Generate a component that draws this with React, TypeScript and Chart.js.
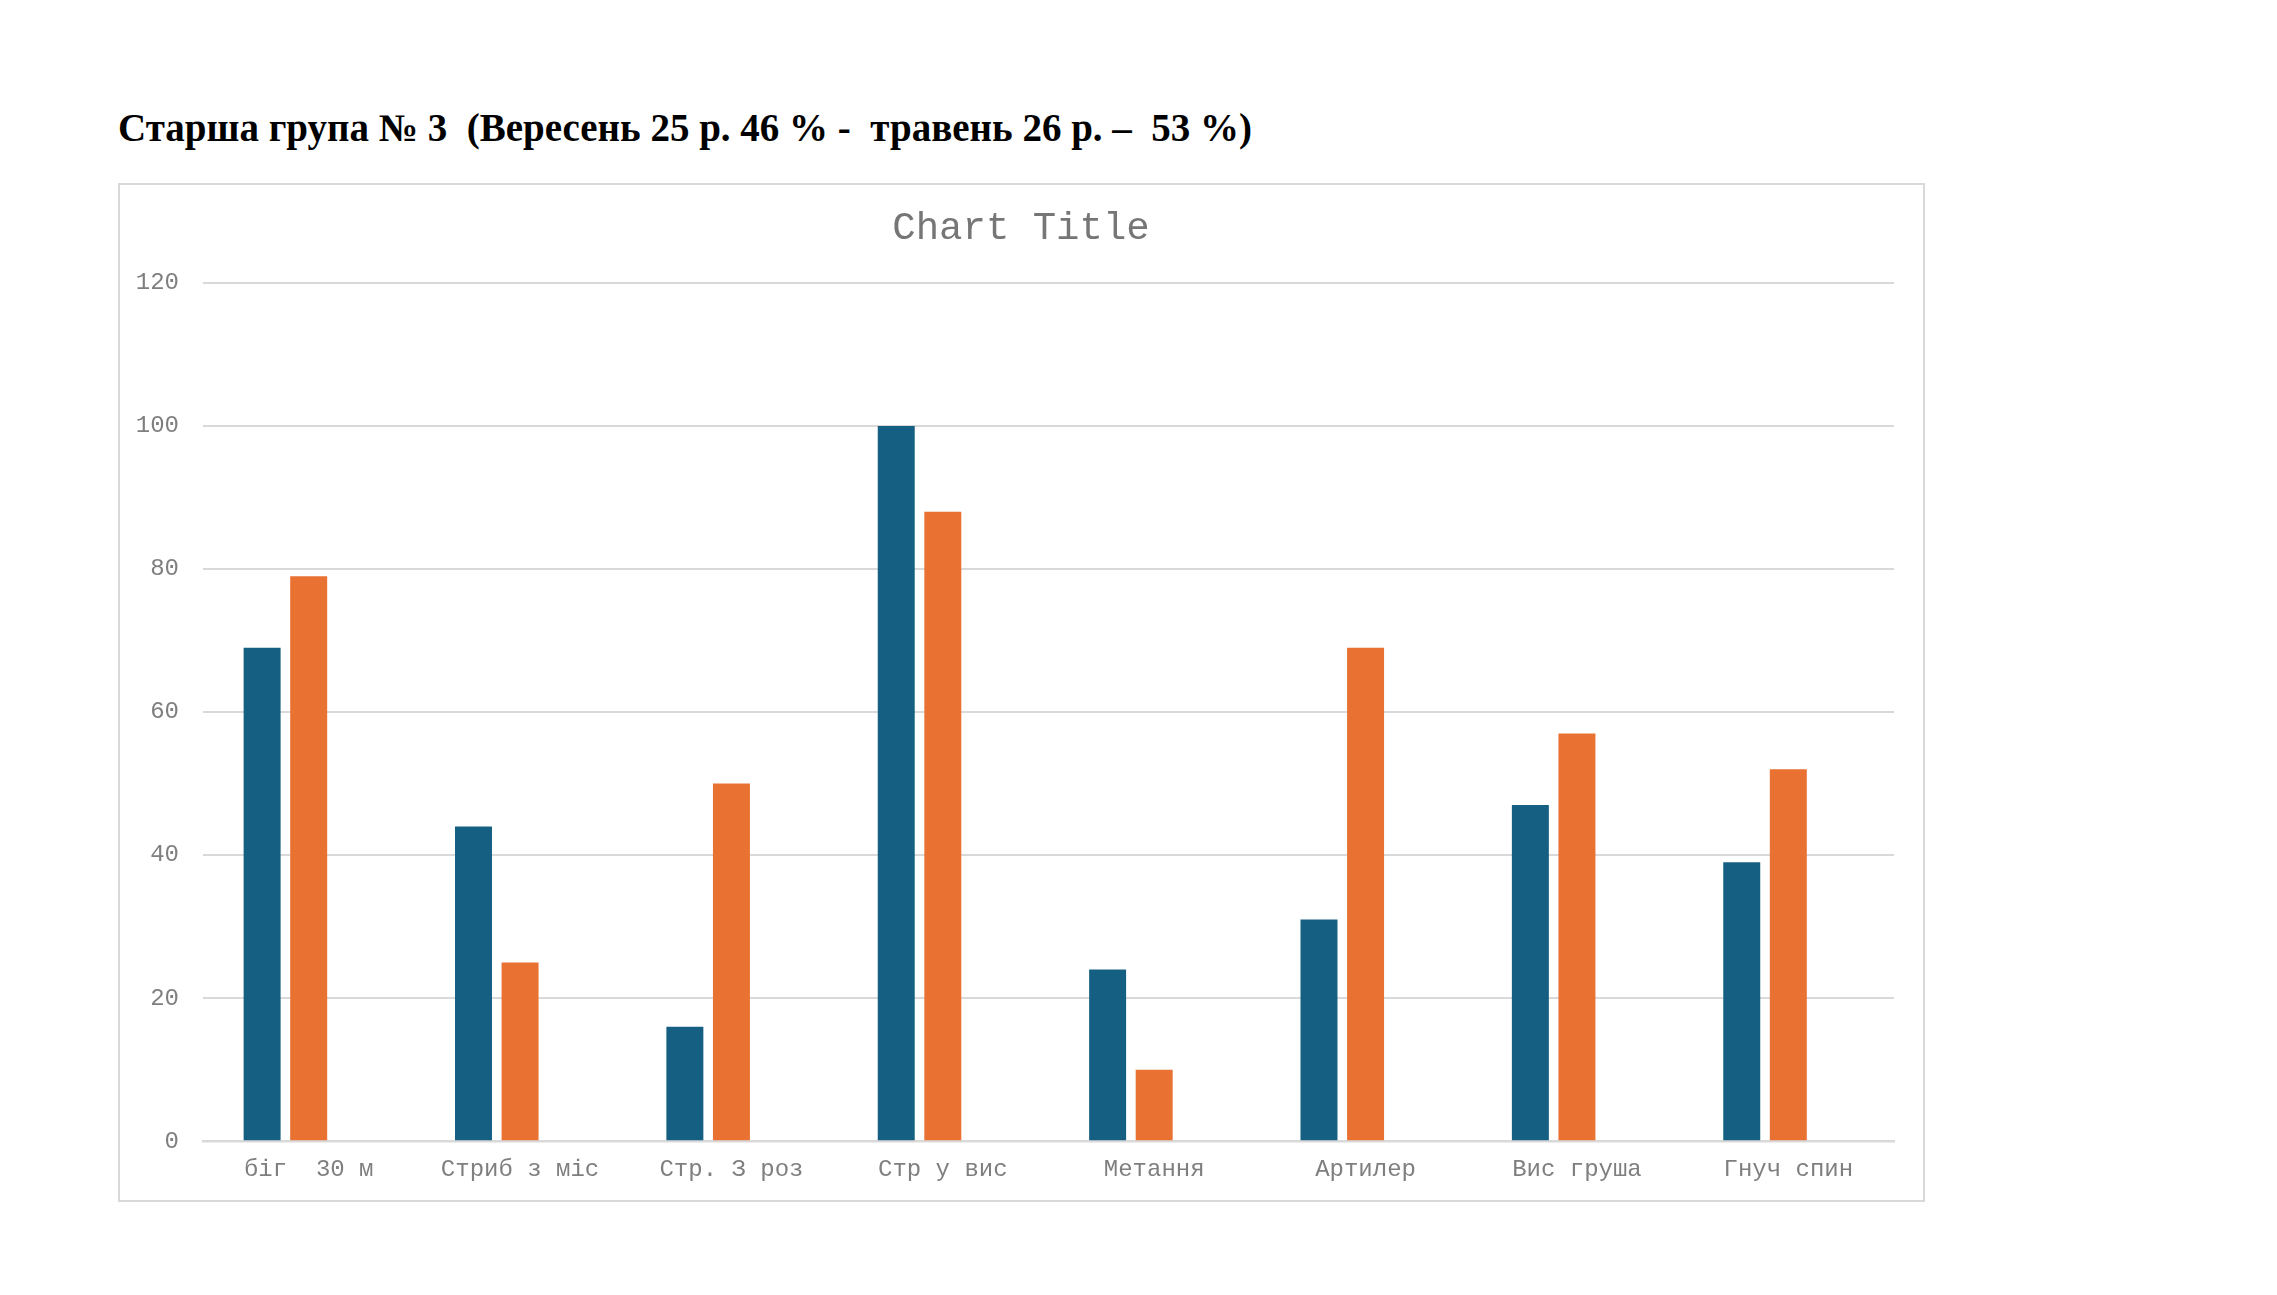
import React, { useEffect, useRef } from "react";
import { Chart, registerables } from "chart.js";

Chart.register(...registerables);

const pageTitle = "Старша група № 3  (Вересень 25 р. 46 % -  травень 26 р. –  53 %)";
const chartTitle = "Chart Title";
const categories = [
  "біг  30 м",
  "Стриб з міс",
  "Стр. З роз",
  "Стр у вис",
  "Метання",
  "Артилер",
  "Вис груша",
  "Гнуч спин",
];
const series1 = [69, 44, 16, 100, 24, 31, 47, 39];
const series2 = [79, 25, 50, 88, 10, 69, 57, 52];
const series3: (number | null)[] = [null, null, null, null, null, null, null, null];
const seriesNames = ["Ряд 1", "Ряд 2", "Ряд 3"];
const yMin = 0;
const yMax = 120;
const yStep = 20;

const BLUE = "#156082";
const ORANGE = "#E97132";
const GRID = "#d9d9d9";
const TEXT = "#7f7f7f";
const TITLE = "#767676";
const MONO = "'Liberation Mono', 'DejaVu Sans Mono', monospace";

function BarChart() {
  const ref = useRef<HTMLCanvasElement | null>(null);
  useEffect(() => {
    if (!ref.current) return;
    const chart = new Chart(ref.current, {
      type: "bar",
      data: {
        labels: categories,
        datasets: [
          { label: seriesNames[0], data: series1, backgroundColor: BLUE },
          { label: seriesNames[1], data: series2, backgroundColor: ORANGE },
          { label: seriesNames[2], data: series3, backgroundColor: "#A02B93" },
        ],
      },
      options: {
        animation: false,
        responsive: true,
        maintainAspectRatio: false,
        datasets: {
          bar: { categoryPercentage: 0.661, barPercentage: 0.794 },
        },
        layout: { padding: { left: 0, right: 29, top: 98, bottom: 2 } },
        plugins: {
          legend: { display: false },
          tooltip: { enabled: false },
          title: { display: false },
        },
        scales: {
          x: {
            grid: { display: false, drawTicks: false },
            border: { display: true, color: GRID, width: 2.5 },
            ticks: {
              color: TEXT,
              font: { family: MONO, size: 24 },
              padding: 14,
              maxRotation: 0,
              autoSkip: false,
            },
          },
          y: {
            min: yMin,
            max: yMax,
            grid: { color: GRID, lineWidth: 2, drawTicks: false },
            border: { display: false },
            ticks: {
              stepSize: yStep,
              color: TEXT,
              font: { family: MONO, size: 24 },
              padding: 24,
            },
            afterFit: (scale: any) => {
              scale.width = 83;
            },
          },
        },
      },
    });
    return () => chart.destroy();
  }, []);
  return <canvas ref={ref} />;
}

export default function App() {
  return (
    <div style={{ position: "absolute", left: 0, top: 0, width: 2277, height: 1295, background: "#fff" }}>
      <div
        style={{
          position: "absolute",
          left: 118,
          top: 104,
          fontFamily: "'Liberation Serif', 'Times New Roman', serif",
          fontWeight: "bold",
          fontSize: 39,
          lineHeight: "48px",
          color: "#000",
          whiteSpace: "pre",
        }}
      >
        {pageTitle}
      </div>
      <div
        style={{
          position: "absolute",
          left: 118,
          top: 183,
          width: 1807,
          height: 1019,
          border: `2px solid ${GRID}`,
          boxSizing: "border-box",
          background: "#fff",
        }}
      >
        <div style={{ position: "relative", width: "100%", height: "100%" }}>
          <BarChart />
        </div>
      </div>
      <div
        style={{
          position: "absolute",
          left: 1021,
          top: 206,
          transform: "translateX(-50%)",
          fontFamily: MONO,
          fontSize: 39,
          lineHeight: "46px",
          color: TITLE,
          whiteSpace: "pre",
        }}
      >
        {chartTitle}
      </div>
    </div>
  );
}
